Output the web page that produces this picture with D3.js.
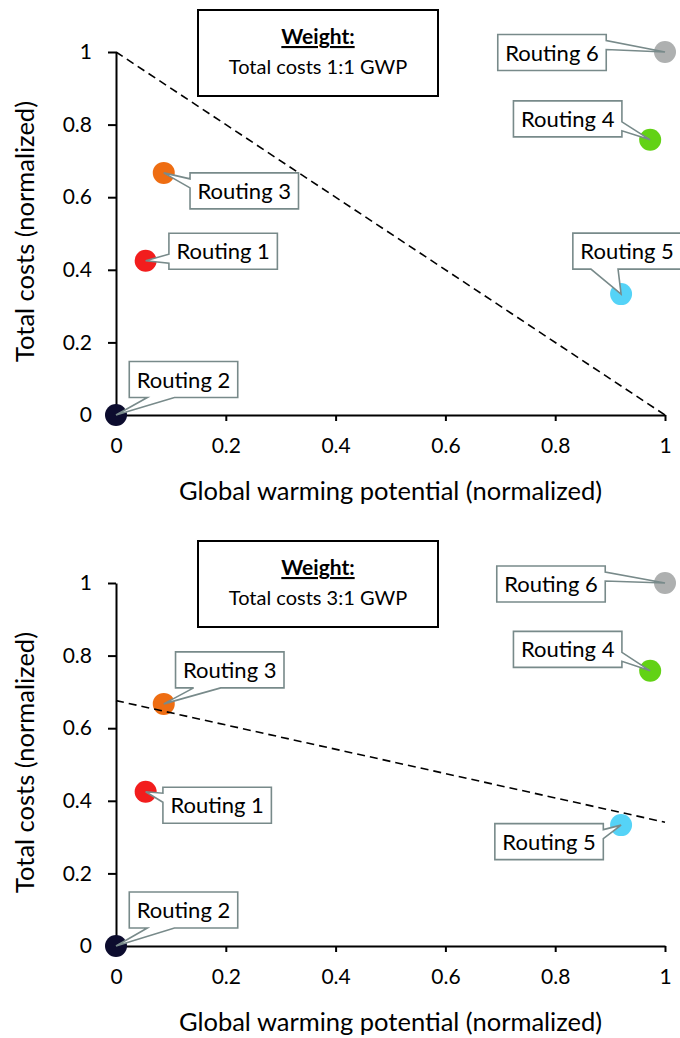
<!DOCTYPE html>
<html>
<head>
<meta charset="utf-8">
<script src="https://cdn.jsdelivr.net/npm/d3@7"></script>
<style>
  html, body { margin: 0; padding: 0; background: #fff; }
  svg { display: block; font-family: Lato, "Open Sans", sans-serif; }
</style>
</head>
<body>
<svg id="chart" width="680" height="1038"></svg>
<script>
// Routing options: normalized global warming potential (x) and total costs (y)
const routings = ["Routing 1", "Routing 2", "Routing 3", "Routing 4", "Routing 5", "Routing 6"];
const gwp      = [0.054, 0, 0.087, 0.973, 0.92, 1];
const costs    = [0.425, 0, 0.667, 0.758, 0.333, 1];

// Weighting scenarios and their iso-score lines (cost value at GWP = 0 and GWP = 1)
const weightings = ["Total costs 1:1 GWP", "Total costs 3:1 GWP"];
const isoStart   = [1, 0.676];
const isoEnd     = [0, 0.341];

const tickValues = [0, 0.2, 0.4, 0.6, 0.8, 1];

const pointColors = ["#f21d1d", "#0c0c2e", "#ee6d12", "#62d215", "#55d3f7", "#aeb0b0"];

// callout box centre offsets from each point, per panel
const calloutOffsets = [
  [[77.5, -9.5], [67.5, -35.5], [80.5, 18], [-82.5, -21], [6, -43], [-113, 0.5]],
  [[71.5, 13.5], [67.5, -36], [66, -34], [-82.5, -21.5], [-72, 16.5], [-114, 1]]
];

const svg = d3.select("#chart");
const x = d3.scaleLinear().domain([0, 1]).range([116, 665]);
const y = d3.scaleLinear().domain([0, 1]).range([415, 52]);
const fmt = d3.format("~g");

function calloutPath(bx, by, w, h, tx, ty) {
  const dxPos = tx - (bx + w / 2), dyPos = ty - (by + h / 2);
  const x1 = bx + w * (dxPos > 0 ? 7 : 2) / 12, x2 = bx + w * (dxPos > 0 ? 10 : 5) / 12;
  const y1 = by + h * (dyPos > 0 ? 7 : 2) / 12, y2 = by + h * (dyPos > 0 ? 10 : 5) / 12;
  const horiz = Math.abs(dxPos * h) > Math.abs(dyPos * w);
  let p = `M${bx},${by}`;
  if (!horiz && dyPos < 0) p += `L${x1},${by}L${tx},${ty}L${x2},${by}`;
  p += `L${bx + w},${by}`;
  if (horiz && dxPos > 0) p += `L${bx + w},${y1}L${tx},${ty}L${bx + w},${y2}`;
  p += `L${bx + w},${by + h}`;
  if (!horiz && dyPos > 0) p += `L${x2},${by + h}L${tx},${ty}L${x1},${by + h}`;
  p += `L${bx},${by + h}`;
  if (horiz && dxPos < 0) p += `L${bx},${y2}L${tx},${ty}L${bx},${y1}`;
  return p + "Z";
}

weightings.forEach((label, pi) => {
  const g = svg.append("g").attr("transform", `translate(0,${pi * 531})`);

  // axes
  const xAxis = d3.axisBottom(x).tickValues(tickValues).tickFormat(fmt).tickSize(6).tickSizeOuter(0);
  const yAxis = d3.axisLeft(y).tickValues(tickValues).tickFormat(fmt).tickSize(8).tickSizeOuter(0).tickPadding(16);

  const gx = g.append("g").attr("transform", `translate(0,${y(0)})`).call(xAxis);
  gx.selectAll("text").attr("dy", null).attr("y", 38);
  const gy = g.append("g").attr("transform", `translate(${x(0)},0)`).call(yAxis);
  [gx, gy].forEach(a => {
    a.select(".domain").attr("stroke", "#000").attr("stroke-width", 2);
    a.selectAll(".tick line").attr("stroke", "#000").attr("stroke-width", 2);
    a.selectAll("text").attr("font-family", "Lato, sans-serif").attr("font-size", 21).attr("fill", "#000");
  });

  // axis titles
  g.append("text")
    .attr("x", (x(0) + x(1)) / 2).attr("y", y(0) + 85)
    .attr("text-anchor", "middle").attr("font-size", 25.5).attr("fill", "#000")
    .text("Global warming potential (normalized)");
  g.append("text")
    .attr("transform", `translate(34,${(y(0) + y(1)) / 2 - 2}) rotate(-90)`)
    .attr("text-anchor", "middle").attr("font-size", 25.5).attr("fill", "#000")
    .text("Total costs (normalized)");

  // weighting box
  g.append("rect").attr("x", 198).attr("y", 10).attr("width", 240).attr("height", 86)
    .attr("fill", "#fff").attr("stroke", "#000").attr("stroke-width", 2);
  g.append("text").attr("x", 318).attr("y", 44).attr("text-anchor", "middle")
    .attr("font-size", 21).attr("font-weight", "bold").attr("text-decoration", "underline")
    .attr("fill", "#000").text("Weight:");
  g.append("text").attr("x", 318).attr("y", 74).attr("text-anchor", "middle")
    .attr("font-size", 20).attr("fill", "#000").text(label);

  // points
  g.selectAll("circle").data(routings).join("circle")
    .attr("cx", (d, i) => x(gwp[i])).attr("cy", (d, i) => y(costs[i]))
    .attr("r", 11).attr("fill", (d, i) => pointColors[i]);

  // iso-score line for this weighting
  g.append("line")
    .attr("x1", x(0)).attr("y1", y(isoStart[pi]))
    .attr("x2", x(1)).attr("y2", y(isoEnd[pi]))
    .attr("stroke", "#000").attr("stroke-width", 1.6).attr("stroke-dasharray", "8,5");

  // callouts
  routings.forEach((name, i) => {
    const tx = x(gwp[i]), ty = y(costs[i]);
    const [ox, oy] = calloutOffsets[pi][i];
    const c = g.append("g");
    const path = c.append("path");
    const t = c.append("text").attr("font-size", 22).attr("text-anchor", "middle")
      .attr("fill", "#000").attr("x", tx + ox).attr("y", ty + oy + 8).text(name);
    const w = t.node().getComputedTextLength() + 15, h = 36;
    path.attr("d", calloutPath(tx + ox - w / 2, ty + oy - h / 2, w, h, tx, ty))
      .attr("fill", "#fff").attr("stroke", "#788a8a").attr("stroke-width", 1.6)
      .attr("stroke-linejoin", "miter");
  });
});
</script>
</body>
</html>
